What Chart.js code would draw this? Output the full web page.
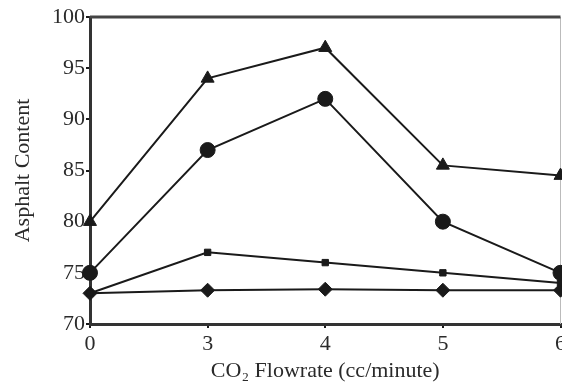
<!DOCTYPE html>
<html>
<head>
<meta charset="utf-8">
<script src="https://cdn.jsdelivr.net/npm/chart.js@4.4.0/dist/chart.umd.min.js"></script>
<style>
  html, body { margin: 0; padding: 0; background: #fff; overflow: hidden; }
  #wrap { position: absolute; left: 0; top: 0; width: 569px; height: 384px; }
</style>
</head>
<body>
<div id="wrap"><canvas id="myChart"></canvas></div>
<script>
// x categories (CO2 flowrate, cc/minute)
const flowrates = ['0', '3', '4', '5', '6'];

// asphalt content series
const triangleSeries = [80, 94, 97, 85.5, 84.5];
const circleSeries = [75, 87, 92, 80, 75];
const squareSeries = [73, 77, 76, 75, 74];
const diamondSeries = [73, 73.3, 73.4, 73.3, 73.3];

// y axis ticks
const yMin = 70;
const yMax = 100;
const yStep = 5;

const serif = 'Liberation Serif, Times New Roman, serif';
const ink = '#1a1a1a';
const textInk = '#2a2a2a';

function lineSet(label, data, style, radius) {
    return {
        label: label,
        data: data,
        borderColor: ink,
        backgroundColor: ink,
        borderWidth: 2,
        pointStyle: style,
        pointRadius: radius,
        pointHoverRadius: radius,
        pointBorderWidth: 1,
        tension: 0,
        fill: false,
        clip: false
    };
}

// frame on top and right of the plot area
const framePlugin = {
    id: 'frame',
    beforeDatasetsDraw(chart) {
        const a = chart.chartArea;
        const c = chart.ctx;
        c.save();
        c.strokeStyle = '#bbbbbb';
        c.lineWidth = 1;
        c.beginPath();
        c.moveTo(a.right, a.top);
        c.lineTo(a.right, a.bottom);
        c.stroke();
        c.strokeStyle = '#444';
        c.lineWidth = 3;
        c.beginPath();
        c.moveTo(a.left, a.top);
        c.lineTo(a.right, a.top);
        c.stroke();
        c.restore();
    }
};

const ctx = document.getElementById('myChart');

new Chart(ctx, {
    type: 'line',
    data: {
        labels: flowrates,
        datasets: [
            lineSet('Triangle', triangleSeries, 'triangle', 7.5),
            lineSet('Circle', circleSeries, 'circle', 7.5),
            lineSet('Square', squareSeries, 'rect', 4.5),
            lineSet('Diamond', diamondSeries, 'rectRot', 7)
        ]
    },
    plugins: [framePlugin],
    options: {
        responsive: true,
        maintainAspectRatio: false,
        animation: false,
        layout: { padding: { top: 17, right: 0, left: 0, bottom: 0 } },
        plugins: {
            legend: { display: false },
            tooltip: { enabled: false }
        },
        scales: {
            x: {
                offset: false,
                grid: { display: true, drawOnChartArea: false, drawTicks: true, tickLength: 4, color: ink, lineWidth: 2 },
                border: { display: true, color: '#333', width: 3 },
                ticks: { color: textInk, font: { family: serif, size: 22 }, padding: 3, maxRotation: 0 },
                title: {
                    display: true,
                    text: 'CO₂ Flowrate (cc/minute)',
                    color: textInk,
                    font: { family: serif, size: 22 },
                    padding: { top: 0, bottom: 0 }
                },
                afterFit(scale) { scale.height = 60; }
            },
            y: {
                min: yMin,
                max: yMax,
                grid: { display: true, drawOnChartArea: false, drawTicks: true, tickLength: 4, color: ink, lineWidth: 2 },
                border: { display: true, color: '#333', width: 3 },
                ticks: { stepSize: yStep, color: textInk, font: { family: serif, size: 22 }, padding: 1 },
                title: {
                    display: true,
                    text: 'Asphalt Content',
                    color: textInk,
                    font: { family: serif, size: 22 },
                    padding: { top: 10, bottom: 0 }
                },
                afterFit(scale) { scale.width = 90; }
            }
        }
    }
});
</script>
</body>
</html>
